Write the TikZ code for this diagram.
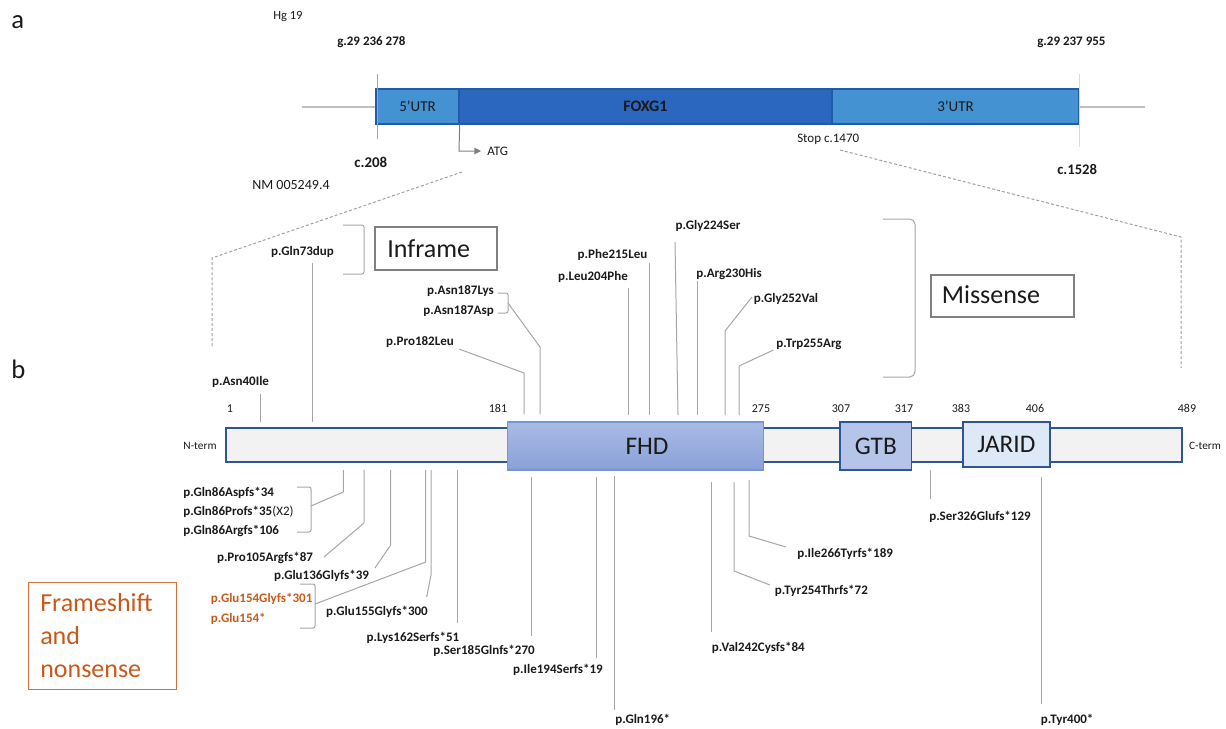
\documentclass[tikz,border=0pt]{standalone}
\usepackage{fontspec}
\setmainfont{Carlito}
\usetikzlibrary{arrows.meta}
\definecolor{conngray}{HTML}{A6A6A6}
\definecolor{dashgray}{HTML}{A0A0A0}
\definecolor{flankgray}{HTML}{BFBFBF}
\definecolor{utrblue}{HTML}{4592D2}
\definecolor{cdsblue}{HTML}{2B67BF}
\definecolor{geneedge}{HTML}{1F5BA8}
\definecolor{baredge}{HTML}{2F5597}
\definecolor{barfill}{HTML}{F2F2F2}
\definecolor{fhdtop}{HTML}{A9BAE5}
\definecolor{fhdbot}{HTML}{8AA1D8}
\definecolor{fhdedge}{HTML}{7596D2}
\definecolor{gtbfill}{HTML}{B4C5E9}
\definecolor{jaridfill}{HTML}{DEE9F7}
\definecolor{boxgray}{HTML}{808080}
\definecolor{fsorange}{HTML}{C9591A}
\definecolor{txt}{HTML}{1A1A1A}
\begin{document}
\begin{tikzpicture}[x=0.75pt,y=-0.75pt,
  mut/.style={inner sep=0pt, text=txt, font=\fontsize{9.75}{11}\selectfont\bfseries},
  mutor/.style={mut, text=fsorange},
  plain/.style={inner sep=0pt, text=txt, font=\fontsize{9.75}{11}\selectfont},
  posn/.style={inner sep=0pt, text=txt, font=\fontsize{9}{11}\selectfont, anchor=base},
  panel/.style={inner sep=0pt, text=txt, font=\fontsize{20}{24}\selectfont, anchor=base west},
  conn/.style={draw=conngray, line width=0.75pt},
  brk/.style={conn, rounded corners=1.5pt},
  dashln/.style={draw=dashgray, line width=0.75pt, dash pattern=on 2.2pt off 1.6pt},
  flank/.style={draw=flankgray, line width=1.1pt},
  tickln/.style={draw=conngray, line width=0.75pt},
  ticklight/.style={draw=flankgray!60, line width=0.75pt},
  genebox/.style={draw=geneedge, line width=1pt, inner sep=0pt, minimum height=35*0.75pt, text=txt, font=\fontsize{11.25}{13}\selectfont},
  barbox/.style={draw=baredge, fill=barfill, line width=1.2pt, inner sep=0pt},
  dombox/.style={draw=baredge, line width=1.4pt, inner sep=0pt, text=txt, font=\fontsize{19}{22}\selectfont},
  catbox/.style={draw=boxgray, line width=0.9pt, inner sep=0pt},
  cattext/.style={inner sep=0pt, text=txt, font=\fontsize{19.5}{22}\selectfont, anchor=base west},
  fsbox/.style={draw=fsorange!85, line width=1pt, inner sep=0pt},
  fstext/.style={inner sep=0pt, text=fsorange, font=\fontsize{19.5}{22}\selectfont, anchor=base west},
  atgarrow/.style={draw=boxgray, line width=0.75pt, -{Triangle[length=5pt,width=5pt]}}
]
\useasboundingbox (0,0) rectangle (1226,728);

% ---------------- panel labels
\node[panel] (pa) at (11,28) {a};
\node[panel] (pb) at (11,378) {b};

% ---------------- part a : gene
\node[plain, font=\fontsize{9.4}{11}\selectfont, anchor=base west] (hg) at (273,19) {Hg 19};
\node[mut, anchor=base west] (g1) at (337,45) {g.29 236 278};
\node[mut, anchor=base west] (g2) at (1037,45) {g.29 237 955};

\coordinate (fl) at (302,107);
\coordinate (fr) at (1145,107);
\draw[flank] (fl) -- (376,107);
\draw[flank] (1079,107) -- (fr);

\node[genebox, fill=utrblue, minimum width=83*0.75pt] (u5) at (417.5,106.5) {5’UTR};
\node[genebox, fill=cdsblue, minimum width=373*0.75pt] (cds) at (645.5,106.5) {\fontsize{12}{14}\selectfont\bfseries FOXG1};
\node[genebox, fill=utrblue, minimum width=247*0.75pt] (u3) at (955.5,106.5) {3’UTR};

\coordinate (t1a) at (377,74); \coordinate (t1b) at (377,139);
\coordinate (t2a) at (1079,74); \coordinate (t2b) at (1079,147);
\draw[tickln] (t1a) -- (t1b);
\draw[ticklight] (t2a) -- (t2b);

\node[mut, font=\fontsize{11.2}{13}\selectfont\bfseries, anchor=base west] (c208) at (354,167) {c.208};
\node[mut, font=\fontsize{11}{13}\selectfont\bfseries, anchor=base west] (c1528) at (1057,174) {c.1528};
\node[plain, anchor=base west] (stop) at (797,142) {Stop c.1470};
\node[plain, anchor=base west] (atg) at (487,155) {ATG};
\node[plain, font=\fontsize{10.5}{12}\selectfont, anchor=base west] (nm) at (252,189) {NM 005249.4};

\coordinate (atgc) at (459,151);
\coordinate (atgtip) at (481,151);
\draw[atgarrow] (u5.south east) -- (atgc) -- (atgtip);

% zoom dashed lines
\coordinate (dl1) at (462,172); \coordinate (dl2) at (212,258); \coordinate (dl3) at (212,347);
\coordinate (dr1) at (840,150); \coordinate (dr2) at (1181,237); \coordinate (dr3) at (1181,368);
\draw[dashln] (dl1) -- (dl2) -- (dl3);
\draw[dashln] (dr1) -- (dr2) -- (dr3);

% ---------------- part b : protein
\node[barbox, minimum width=956*0.75pt, minimum height=33.5*0.75pt] (bar) at (704,445) {};
\node[draw=fhdedge, line width=1pt, top color=fhdtop, bottom color=fhdbot, inner sep=0pt,
      minimum width=256*0.75pt, minimum height=48*0.75pt] (fhd) at (635.2,446) {};
\node[inner sep=0pt, text=txt, font=\fontsize{19}{22}\selectfont] (fhdt) at (647,446) {FHD};
\node[dombox, fill=gtbfill, minimum width=71.5*0.75pt, minimum height=48*0.75pt] (gtb) at (875.8,446) {GTB};
\node[dombox, line width=1.2pt, fill=jaridfill, minimum width=87.3*0.75pt, minimum height=45*0.75pt] (jarid) at (1006.4,444.5) {JARID};

\node[plain, font=\fontsize{8.5}{10}\selectfont] (nterm) at (200,446) {N-term};
\node[plain, font=\fontsize{8.5}{10}\selectfont] (cterm) at (1205,446) {C-term};

% positions
\node[posn] (n1) at (230,412) {1};
\node[posn] (n181) at (498,412) {181};
\node[posn] (n275) at (761,412) {275};
\node[posn] (n307) at (841,412) {307};
\node[posn] (n317) at (904,412) {317};
\node[posn] (n383) at (961,412) {383};
\node[posn] (n406) at (1035,412) {406};
\node[posn] (n489) at (1187,412) {489};

% ---------------- missense / inframe (above)
\node[mut, anchor=base] (m40) at (240.5,385) {p.Asn40Ile};
\node[mut, anchor=base] (m73) at (302.5,255) {p.Gln73dup};
\node[mut, anchor=base east] (m187k) at (494,294) {p.Asn187Lys};
\node[mut, anchor=base east] (m187d) at (494,314) {p.Asn187Asp};
\node[mut, anchor=base] (m182) at (420,345) {p.Pro182Leu};
\node[mut, anchor=base] (m204) at (593,280) {p.Leu204Phe};
\node[mut, anchor=base] (m215) at (612.5,258) {p.Phe215Leu};
\node[mut, anchor=base] (m224) at (708,229) {p.Gly224Ser};
\node[mut, anchor=base] (m230) at (729,277) {p.Arg230His};
\node[mut, anchor=base] (m252) at (786,302) {p.Gly252Val};
\node[mut, anchor=base] (m255) at (809,347) {p.Trp255Arg};

\coordinate (a40t) at (260,394);   \coordinate (a40b) at (260,422);
\coordinate (a73t) at (312,263);   \coordinate (a73b) at (312,422);
\coordinate (a187s) at (508,303);  \coordinate (a187k) at (540,347); \coordinate (a187b) at (540,414);
\coordinate (a182s) at (459,349);  \coordinate (a182k) at (524,373); \coordinate (a182b) at (524,414);
\coordinate (a204t) at (628,288);  \coordinate (a204b) at (628,415);
\coordinate (a215t) at (649.5,263);\coordinate (a215b) at (649.5,415);
\coordinate (a224t) at (675,242);  \coordinate (a224b) at (678,415);
\coordinate (a230t) at (697,281);  \coordinate (a230b) at (697,415);
\coordinate (a252s) at (752,297);  \coordinate (a252k) at (725,331); \coordinate (a252b) at (725,415);
\coordinate (a255s) at (773.5,350);\coordinate (a255k) at (739,366); \coordinate (a255b) at (739,415);

\draw[conn] (a40t) -- (a40b);
\draw[conn] (a73t) -- (a73b);
\draw[brk] (498,293) -- (508,293) -- (508,313) -- (498,313);
\draw[conn] (a187s) -- (a187k) -- (a187b);
\draw[conn] (a182s) -- (a182k) -- (a182b);
\draw[conn] (a204t) -- (a204b);
\draw[conn] (a215t) -- (a215b);
\draw[conn] (a224t) -- (a224b);
\draw[conn] (a230t) -- (a230b);
\draw[conn] (a252s) -- (a252k) -- (a252b);
\draw[conn] (a255s) -- (a255k) -- (a255b);

% brackets and category boxes
\draw[brk] (343,225) -- (364,225) -- (364,274) -- (343,274);
\node[catbox, minimum width=122*0.75pt, minimum height=43*0.75pt] (infbox) at (436,248.5) {};
\node[cattext] (inft) at (387,257) {Inframe};

\draw[brk, rounded corners=4pt] (883,219) -- (915,219) -- (915,377) -- (883,377);
\node[catbox, minimum width=143*0.75pt, minimum height=42*0.75pt] (misbox) at (1002.5,296) {};
\node[cattext] (mist) at (941.6,303) {Missense};

% ---------------- frameshift / nonsense (below)
\node[mut, anchor=base west] (f86a) at (183,496) {p.Gln86Aspfs*34};
\node[mut, anchor=base west] (f86p) at (183,515) {p.Gln86Profs*35\textmd{(X2)}};
\node[mut, anchor=base west] (f86r) at (183,534) {p.Gln86Argfs*106};
\node[mut, anchor=base] (f105) at (265,561) {p.Pro105Argfs*87};
\node[mut, anchor=base] (f136) at (321.5,579.3) {p.Glu136Glyfs*39};
\node[mutor, anchor=base west] (f154g) at (210.5,602) {p.Glu154Glyfs*301};
\node[mutor, anchor=base west] (f154x) at (210.5,622) {p.Glu154*};
\node[mut, anchor=base] (f155) at (377,615) {p.Glu155Glyfs*300};
\node[mut, anchor=base] (f162) at (413,641) {p.Lys162Serfs*51};
\node[mut, anchor=base] (f185) at (484,654) {p.Ser185Glnfs*270};
\node[mut, anchor=base] (f194) at (558,673) {p.Ile194Serfs*19};
\node[mut, anchor=base west] (f196) at (615,723) {p.Gln196*};
\node[mut, anchor=base west] (f242) at (711.7,651) {p.Val242Cysfs*84};
\node[mut, anchor=base west] (f254) at (774.6,594) {p.Tyr254Thrfs*72};
\node[mut, anchor=base west] (f266) at (797,557) {p.Ile266Tyrfs*189};
\node[mut, anchor=base west] (f326) at (929,520) {p.Ser326Glufs*129};
\node[mut, anchor=base west] (f400) at (1040.5,723) {p.Tyr400*};

\coordinate (b86t) at (343.3,470);  \coordinate (b86k) at (343.3,492); \coordinate (b86e) at (311,506);
\coordinate (b105t) at (364,470);   \coordinate (b105k) at (364,523);  \coordinate (b105e) at (324,557);
\coordinate (b136t) at (390.7,470); \coordinate (b136k) at (390.7,545);\coordinate (b136e) at (375,568);
\coordinate (b154t) at (425.7,470); \coordinate (b154k) at (425.7,562);\coordinate (b154e) at (315,604);
\coordinate (b155t) at (431,470);   \coordinate (b155k) at (431,575);  \coordinate (b155e) at (426.7,597);
\coordinate (b162t) at (457,470);   \coordinate (b162e) at (457,623);
\coordinate (b185t) at (531,477);   \coordinate (b185e) at (531,636);
\coordinate (b194t) at (596.7,477); \coordinate (b194e) at (596.7,658);
\coordinate (b196t) at (614.5,476); \coordinate (b196e) at (614.5,710);
\coordinate (b242t) at (711,482);   \coordinate (b242e) at (711,632);
\coordinate (b254t) at (734,482);   \coordinate (b254k) at (734,571);  \coordinate (b254e) at (770,585);
\coordinate (b266t) at (749,480);   \coordinate (b266k) at (749,536);  \coordinate (b266e) at (786,547);
\coordinate (b326t) at (930,470);   \coordinate (b326e) at (930,499);
\coordinate (b400t) at (1041,477);  \coordinate (b400e) at (1041,704);

\draw[conn] (b86t) -- (b86k) -- (b86e);
\draw[brk] (297,487) -- (311,487) -- (311,532) -- (297,532);
\draw[conn] (b105t) -- (b105k) -- (b105e);
\draw[conn] (b136t) -- (b136k) -- (b136e);
\draw[conn] (b154t) -- (b154k) -- (b154e);
\draw[brk] (300,584) -- (315,584) -- (315,628) -- (300,628);
\draw[conn] (b155t) -- (b155k) -- (b155e);
\draw[conn] (b162t) -- (b162e);
\draw[conn] (b185t) -- (b185e);
\draw[conn] (b194t) -- (b194e);
\draw[conn] (b196t) -- (b196e);
\draw[conn] (b242t) -- (b242e);
\draw[conn] (b254t) -- (b254k) -- (b254e);
\draw[conn] (b266t) -- (b266k) -- (b266e);
\draw[conn] (b326t) -- (b326e);
\draw[conn] (b400t) -- (b400e);

\node[fsbox, minimum width=148*0.75pt, minimum height=106.6*0.75pt] (fsbox) at (102.75,636) {};
\node[fstext] (fs1) at (40,611) {Frameshift};
\node[fstext] (fs2) at (40,644) {and};
\node[fstext] (fs3) at (40,677) {nonsense};
\end{tikzpicture}
\end{document}
